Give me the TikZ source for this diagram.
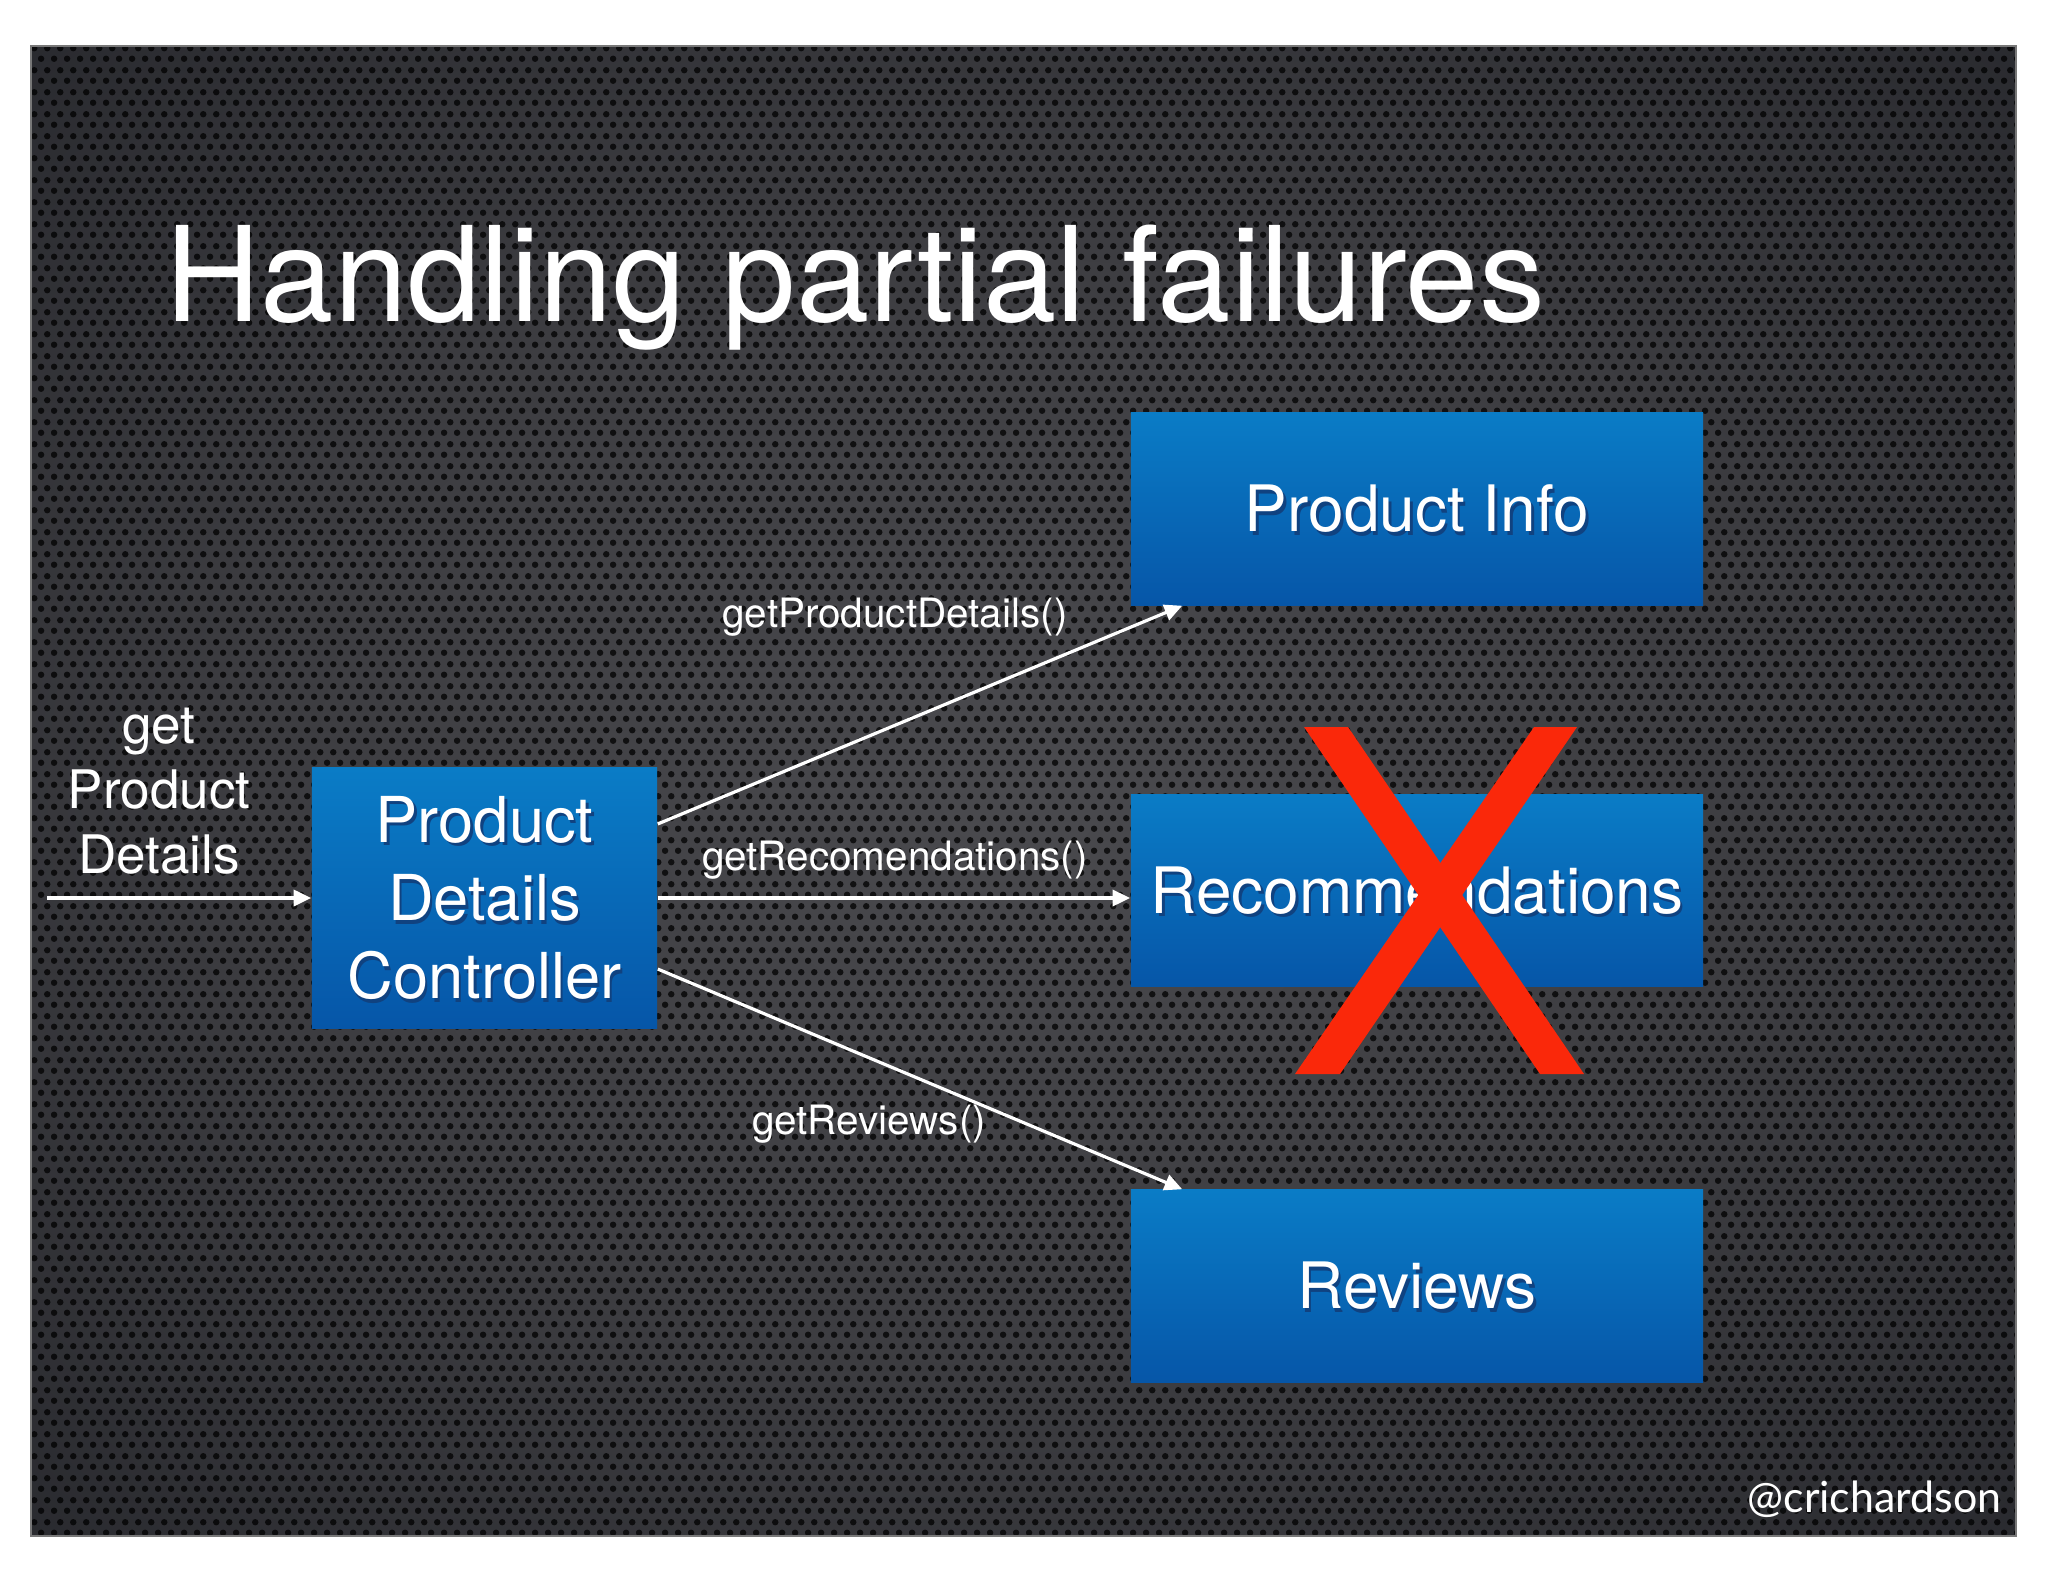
\documentclass[tikz,border=0pt]{standalone}
\usepackage{fontspec}
\setmainfont{TeX Gyre Heros}
\newfontfamily\handlefont{Lato}
\usetikzlibrary{arrows.meta,calc,patterns.meta}
\definecolor{boxtop}{RGB}{10,124,198}
\definecolor{boxbot}{RGB}{6,86,168}
\definecolor{shadowc}{RGB}{16,66,128}
\definecolor{xred}{RGB}{250,40,10}
\definecolor{bga}{RGB}{74,74,78}
\definecolor{bgb}{RGB}{60,60,64}
\definecolor{bgc}{RGB}{36,37,42}
\definecolor{bgd}{RGB}{18,18,22}
\definecolor{frame}{RGB}{120,120,120}
\pgfdeclareradialshading{slidebg}{\pgfpoint{0bp}{0bp}}{color(0bp)=(bga); color(20bp)=(bgb); color(40bp)=(bgc); color(52bp)=(bgd); color(66bp)=(black); color(72bp)=(black)}
\tikzdeclarepattern{
  name=perf,
  type=uncolored,
  bounding box={(0pt,0pt) and (3.6pt,6.26pt)},
  tile size={(3.6pt,6.26pt)},
  code={
    \fill (0.9pt,1.56pt) circle (0.95pt);
    \fill (2.7pt,4.69pt) circle (0.95pt);
  }
}
\newcommand\shtxt[1]{\makebox[0pt][l]{\raisebox{-1pt}[0pt][0pt]{\hspace{0.7pt}\textcolor{shadowc}{#1}}}#1}
\begin{document}
\begin{tikzpicture}[x=0.01cm,y=-0.01cm,
  svc/.style={rectangle, top color=boxtop, bottom color=boxbot, draw=none,
    minimum width=5.72cm, minimum height=1.92cm, inner sep=0pt, text=white,
    font=\fontsize{18.2}{22}\selectfont},
  ctrlbox/.style={rectangle, top color=boxtop, bottom color=boxbot, draw=none,
    minimum width=3.45cm, minimum height=2.6cm, inner sep=0pt, text=white,
    align=center, font=\fontsize{18}{22.2}\selectfont},
  call/.style={text=white, inner sep=0pt, font=\fontsize{11.5}{13}\selectfont},
  arr/.style={draw=white, line width=0.9pt, -{Triangle[length=5pt,width=4.6pt]}},
  xbar/.style={fill=xred, draw=none}]
\useasboundingbox (0,0) rectangle (2048,1582);
\fill[white] (0,0) rectangle (2048,1582);
% slide background
\shade[shading=slidebg] (31,46) rectangle (2016,1536);
\fill[pattern=perf, pattern color=black, fill opacity=0.75] (31,46) rectangle (2016,1536);
\draw[frame, line width=0.6pt] (31,46) rectangle (2016,1536);

% title
\node[anchor=base west, inner sep=0pt, text=white, font=\fontsize{37.5}{40}\selectfont] (title) at (165,321) {Handling partial failures};

% boxes
\node[ctrlbox] (ctrl) at (484.5,898) {\shtxt{Product}\\\shtxt{Details}\\\shtxt{Controller}};
\node[svc] (info) at (1417,509) {\shtxt{Product Info}};
\node[svc] (rec) at (1417,890.5) {\shtxt{Recommendations}};
\node[svc] (rev) at (1417,1286) {\shtxt{Reviews}};

% request
\node[text=white, align=center, inner sep=0pt, font=\fontsize{15.1}{18.5}\selectfont] (req) at (159,791) {get\\Product\\Details};
\coordinate (src) at (47,898);
\draw[arr] (src) -- (ctrl.west);

% calls
\draw[arr] ([yshift=0.74cm]ctrl.east) -- ([xshift=0.52cm]info.south west);
\draw[arr] (ctrl.east) -- (ctrl.east -| rec.west);
\draw[arr] ([yshift=-0.71cm]ctrl.east) -- ([xshift=0.52cm]rev.north west);

\node[call] (l1) at (895,617) {getProductDetails()};
\node[call] (l2) at (895,860) {getRecomendations()};
\node[call] (l3) at (869,1124) {getReviews()};

% failure mark
\fill[xbar] (1304,727) -- (1348,727) -- (1584,1074) -- (1540,1074) -- cycle;
\fill[xbar] (1534,727) -- (1577,727) -- (1340,1074) -- (1295,1074) -- cycle;

% handle
\node[anchor=base east, inner sep=0pt, text=white, font=\handlefont\fontsize{12.2}{14}\selectfont] (handle) at (2002,1512) {@crichardson};
\end{tikzpicture}
\end{document}
